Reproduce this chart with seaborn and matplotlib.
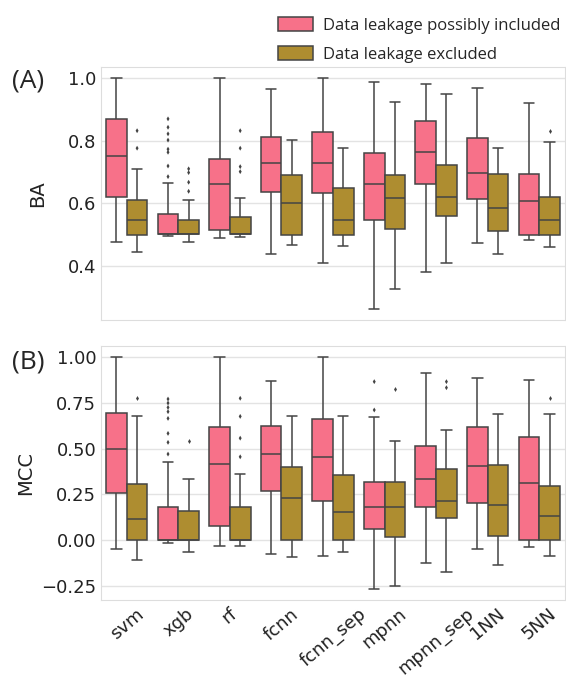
import numpy as np
import pandas as pd
import matplotlib
matplotlib.use("Agg")
import matplotlib.pyplot as plt
import seaborn as sns

models = ["svm", "xgb", "rf", "fcnn", "fcnn_sep", "mpnn", "mpnn_sep", "1NN", "5NN"]
groups = ["Data leakage possibly included", "Data leakage excluded"]

# five-number summaries per model: [low whisker, Q1, median, Q3, high whisker]
ba_incl = [
    [0.475, 0.619, 0.751, 0.869, 1.000],
    [0.495, 0.500, 0.500, 0.566, 0.665],
    [0.487, 0.514, 0.662, 0.743, 1.000],
    [0.437, 0.636, 0.730, 0.811, 0.966],
    [0.407, 0.632, 0.729, 0.827, 1.000],
    [0.261, 0.546, 0.663, 0.762, 0.987],
    [0.381, 0.662, 0.764, 0.864, 0.982],
    [0.471, 0.612, 0.697, 0.808, 0.970],
    [0.482, 0.499, 0.606, 0.695, 0.922],
]
ba_excl = [
    [0.445, 0.499, 0.546, 0.610, 0.708],
    [0.475, 0.500, 0.500, 0.546, 0.610],
    [0.491, 0.500, 0.500, 0.556, 0.617],
    [0.465, 0.499, 0.602, 0.689, 0.802],
    [0.463, 0.499, 0.546, 0.648, 0.778],
    [0.324, 0.516, 0.616, 0.691, 0.924],
    [0.407, 0.560, 0.619, 0.721, 0.950],
    [0.437, 0.512, 0.586, 0.695, 0.778],
    [0.459, 0.499, 0.545, 0.621, 0.797],
]
ba_fliers_incl = {
    "xgb": [0.870, 0.843, 0.822, 0.802, 0.773, 0.763, 0.719, 0.685],
}
ba_fliers_excl = {
    "svm": [0.832, 0.776],
    "xgb": [0.710, 0.698, 0.667, 0.638],
    "rf": [0.832, 0.776, 0.717, 0.701],
    "5NN": [0.831],
}

mcc_incl = [
    [-0.047, 0.259, 0.498, 0.697, 1.000],
    [-0.016, 0.000, 0.000, 0.180, 0.425],
    [-0.031, 0.075, 0.414, 0.620, 1.000],
    [-0.077, 0.268, 0.474, 0.626, 0.870],
    [-0.086, 0.217, 0.456, 0.661, 1.000],
    [-0.265, 0.060, 0.184, 0.316, 0.672],
    [-0.126, 0.182, 0.332, 0.513, 0.914],
    [-0.047, 0.201, 0.407, 0.619, 0.889],
    [-0.035, 0.000, 0.312, 0.562, 0.878],
]
mcc_excl = [
    [-0.109, 0.000, 0.117, 0.310, 0.681],
    [-0.066, 0.000, 0.000, 0.159, 0.334],
    [-0.029, 0.000, 0.000, 0.180, 0.361],
    [-0.093, 0.000, 0.232, 0.403, 0.681],
    [-0.062, 0.000, 0.155, 0.359, 0.681],
    [-0.252, 0.015, 0.184, 0.316, 0.542],
    [-0.175, 0.124, 0.215, 0.391, 0.602],
    [-0.135, 0.022, 0.190, 0.411, 0.692],
    [-0.089, 0.000, 0.130, 0.299, 0.690],
]
mcc_fliers_incl = {
    "xgb": [0.772, 0.750, 0.726, 0.703, 0.666, 0.584, 0.535, 0.471],
    "mpnn": [0.867, 0.712],
}
mcc_fliers_excl = {
    "svm": [0.776],
    "xgb": [0.540],
    "rf": [0.776, 0.677, 0.558, 0.456],
    "mpnn": [0.825],
    "mpnn_sep": [0.867, 0.834],
    "5NN": [0.776],
}

pink = "#f77189"
olive = "#ae8d30"


def box_frame(incl, excl):
    rows = []
    for m, vals in zip(models, incl):
        for v in vals:
            rows.append((m, groups[0], v))
    for m, vals in zip(models, excl):
        for v in vals:
            rows.append((m, groups[1], v))
    return pd.DataFrame(rows, columns=["model", "group", "value"])


def flier_frame(fi, fe):
    rows = []
    for m, vals in fi.items():
        for v in vals:
            rows.append((m, groups[0], v))
    for m, vals in fe.items():
        for v in vals:
            rows.append((m, groups[1], v))
    return pd.DataFrame(rows, columns=["model", "group", "value"])


sns.set_style("whitegrid")
plt.rcParams["font.family"] = ["DejaVu Sans"]

fig = plt.figure(figsize=(5.66, 6.8), dpi=100)
axA = fig.add_axes([101 / 566, 1 - 320 / 680, 464 / 566, 253 / 680])
axB = fig.add_axes([101 / 566, 1 - 600 / 680, 464 / 566, 254 / 680])


def draw(ax, df, fl):
    sns.boxplot(data=df, x="model", y="value", hue="group", order=models,
                hue_order=groups, palette=[pink, olive], saturation=1,
                whis=(0, 100), width=0.8, linewidth=1.1, linecolor="#444444",
                ax=ax)
    sns.stripplot(data=fl, x="model", y="value", hue="group", order=models,
                  hue_order=groups, palette=["#444444", "#444444"], dodge=True,
                  jitter=False, marker="d", size=2.5, ax=ax, legend=False)
    for s in ax.spines.values():
        s.set_color("#dddddd")
    ax.grid(True, axis="y", color="#e3e3e3", linewidth=1)
    ax.grid(False, axis="x")
    ax.tick_params(labelsize=13, colors="#222222", length=0)
    ax.set_xlabel("")


draw(axA, box_frame(ba_incl, ba_excl), flier_frame(ba_fliers_incl, ba_fliers_excl))
draw(axB, box_frame(mcc_incl, mcc_excl), flier_frame(mcc_fliers_incl, mcc_fliers_excl))

axA.set_ylim(0.226, 1.036)
axA.set_yticks([0.4, 0.6, 0.8, 1.0])
axA.set_xticklabels([])
axA.set_ylabel("BA", fontsize=14, labelpad=15, color="#222222")

axB.set_ylim(-0.327, 1.062)
axB.set_yticks([-0.25, 0.0, 0.25, 0.5, 0.75, 1.0])
axB.set_yticklabels(["\u22120.25", "0.00", "0.25", "0.50", "0.75", "1.00"])
axB.set_ylabel("MCC", fontsize=14, labelpad=4, color="#222222")
axB.set_xticks(range(len(models)))
axB.set_xticklabels(models, rotation=40, ha="center", fontsize=13)

handles, labels = axA.get_legend_handles_labels()
if axB.get_legend():
    axB.get_legend().remove()
axA.legend(handles[:2], labels[:2], loc="lower right", bbox_to_anchor=(1.0, 1.0),
           frameon=False, handlelength=2.1, handleheight=0.9, labelspacing=0.75,
           handletextpad=0.65, borderaxespad=0.0, borderpad=0.25,
           prop={"family": "Open Sans", "size": 12})

fig.text(12 / 566, 1 - 81 / 680, "(A)", fontsize=19, family="Open Sans", va="center")
fig.text(12 / 566, 1 - 362 / 680, "(B)", fontsize=19, family="Open Sans", va="center")

fig.savefig("out.png", dpi=100)
